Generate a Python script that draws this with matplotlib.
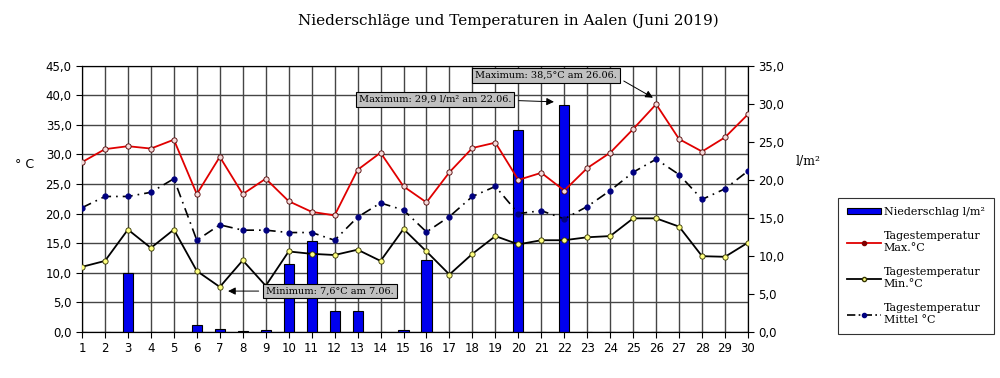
import matplotlib
matplotlib.use("Agg")
import matplotlib.pyplot as plt
from matplotlib.ticker import FuncFormatter, MultipleLocator
from matplotlib.patches import Patch
from matplotlib.lines import Line2D

days = list(range(1, 31))

temp_max = [28.7, 30.9, 31.4, 31.0, 32.5, 23.3, 29.6, 23.3, 25.9, 22.1,
            20.3, 19.7, 27.4, 30.3, 24.6, 21.9, 27.0, 31.1, 32.0, 25.7,
            26.9, 23.9, 27.7, 30.3, 34.3, 38.5, 32.6, 30.5, 32.9, 36.8]
temp_min = [11.0, 12.0, 17.3, 14.2, 17.3, 10.3, 7.6, 12.1, 7.8, 13.6,
            13.2, 13.0, 13.9, 12.0, 17.4, 13.6, 9.7, 13.2, 16.2, 14.8,
            15.5, 15.5, 16.0, 16.2, 19.2, 19.2, 17.8, 12.8, 12.7, 15.1]
temp_mean = [21.0, 22.9, 22.9, 23.6, 25.9, 15.5, 18.1, 17.2, 17.2, 16.8,
             16.8, 15.5, 19.4, 21.8, 20.6, 16.9, 19.5, 22.9, 24.6, 20.0,
             20.5, 19.1, 21.2, 23.9, 27.0, 29.2, 26.6, 22.4, 24.2, 27.2]
precip = [0, 0, 7.7, 0, 0, 0.9, 0.4, 0.1, 0.3, 8.9,
          12.0, 2.8, 2.7, 0, 0.3, 9.4, 0, 0, 0, 26.6,
          0, 29.9, 0, 0, 0, 0, 0, 0, 0, 0]

title = "Niederschläge und Temperaturen in Aalen (Juni 2019)"
label_precip = "Niederschlag l/m²"
label_max = "Tagestemperatur\nMax.°C"
label_min = "Tagestemperatur\nMin.°C"
label_mean = "Tagestemperatur\nMittel °C"

plt.rcParams["font.family"] = ["DejaVu Serif"]
plt.rcParams["font.size"] = 9

comma = FuncFormatter(lambda v, _: f"{v:.1f}".replace(".", ","))
tick_font = dict(family="DejaVu Sans", size=8.5)

fig = plt.figure(figsize=(10, 3.78), dpi=100)
ax = fig.add_axes([0.082, 0.122, 0.666, 0.704])

# grid layer (temperature axis)
ax.set_xlim(1, 30)
ax.set_ylim(0, 45)
ax.yaxis.set_major_locator(MultipleLocator(5))
ax.yaxis.set_major_formatter(comma)
ax.set_xticks(days)
ax.grid(True, color="#454545", linewidth=1.0)
ax.spines["top"].set_color("#454545")
ax.tick_params(direction="out", length=4)
for lbl in ax.get_xticklabels() + ax.get_yticklabels():
    lbl.set_fontproperties(tick_font)
ax.set_ylabel("° C", rotation=0, fontsize=9, family="DejaVu Sans",
              va="center", ha="center")
ax.yaxis.set_label_coords(-0.086, 0.628)

# precipitation bars
ax2 = ax.twinx()
ax2.bar(days, precip, width=0.44, color="#0000ee", edgecolor="black",
        linewidth=0.8)
ax2.set_ylim(0, 35)
ax2.yaxis.set_major_locator(MultipleLocator(5))
ax2.yaxis.set_major_formatter(comma)
ax2.tick_params(direction="out", length=4)
for lbl in ax2.get_yticklabels():
    lbl.set_fontproperties(tick_font)
ax2.set_ylabel("l/m²", rotation=0, fontsize=9, va="center", ha="center")
ax2.yaxis.set_label_coords(1.09, 0.64)

# temperature lines on top
ax3 = ax.twinx()
ax3.set_ylim(0, 45)
ax3.set_yticks([])
for s in ax3.spines.values():
    s.set_visible(False)
ax3.plot(days, temp_mean, color="black", linestyle=(0, (6, 3, 1, 3)),
         linewidth=1.2, marker="o", markersize=3.5, mfc="#000080",
         mec="#000080")
ax3.plot(days, temp_min, color="black", linewidth=1.3, marker="o",
         markersize=3.8, mfc="#ffff80", mec="#333300", mew=0.6)
ax3.plot(days, temp_max, color="#e00000", linewidth=1.3, marker="o",
         markersize=3.8, mfc="#f4dada", mec="#500000", mew=0.6)

box = dict(boxstyle="square,pad=0.3", facecolor="#c0c0c0",
           edgecolor="black", linewidth=0.8)
arrow = dict(arrowstyle="-|>", color="black", linewidth=0.7,
             mutation_scale=11, shrinkA=3, shrinkB=0)

ann_min = arrow.copy()
ann_min["relpos"] = (0.0, 0.5)
ax3.annotate("Minimum: 7,6°C am 7.06.", xy=(7.36, 6.9), xytext=(11.8, 6.9),
             ha="center", va="center", fontsize=7, bbox=box,
             arrowprops=ann_min)

ann_rain = arrow.copy()
ann_rain["relpos"] = (1.0, 0.4)
ax3.annotate("Maximum: 29,9 l/m² am 22.06.", xy=(21.55, 38.9),
             xytext=(16.37, 39.3), ha="center", va="center", fontsize=7,
             bbox=box, arrowprops=ann_rain)

ann_max = arrow.copy()
ann_max["relpos"] = (1.0, 0.3)
ax3.annotate("Maximum: 38,5°C am 26.06.", xy=(25.86, 39.6),
             xytext=(21.2, 43.4), ha="center", va="center", fontsize=7,
             bbox=box, arrowprops=ann_max)

fig.text(0.508, 0.945, title, ha="center", va="center", fontsize=11)

handles = [
    Patch(facecolor="#0000ee", edgecolor="black", linewidth=0.8),
    Line2D([], [], color="#e00000", linewidth=1.3, marker="o", markersize=3,
           mfc="#800000", mec="#800000"),
    Line2D([], [], color="black", linewidth=1.3, marker="o", markersize=3,
           mfc="#ffff80", mec="#333300"),
    Line2D([], [], color="black", linestyle=(0, (5, 2, 1, 2)), linewidth=1.2,
           marker="o", markersize=3, mfc="#000080", mec="#000080"),
]
leg = fig.legend(handles, [label_precip, label_max, label_min, label_mean],
                 loc="upper left", bbox_to_anchor=(0.835, 0.485),
                 fontsize=8, frameon=True, fancybox=False, handlelength=3.0,
                 handleheight=0.5, labelspacing=1.3, borderpad=0.8,
                 handletextpad=0.3, borderaxespad=0.3)
leg.get_frame().set_edgecolor("black")
leg.get_frame().set_linewidth(0.8)

fig.savefig("out.png", dpi=100)
